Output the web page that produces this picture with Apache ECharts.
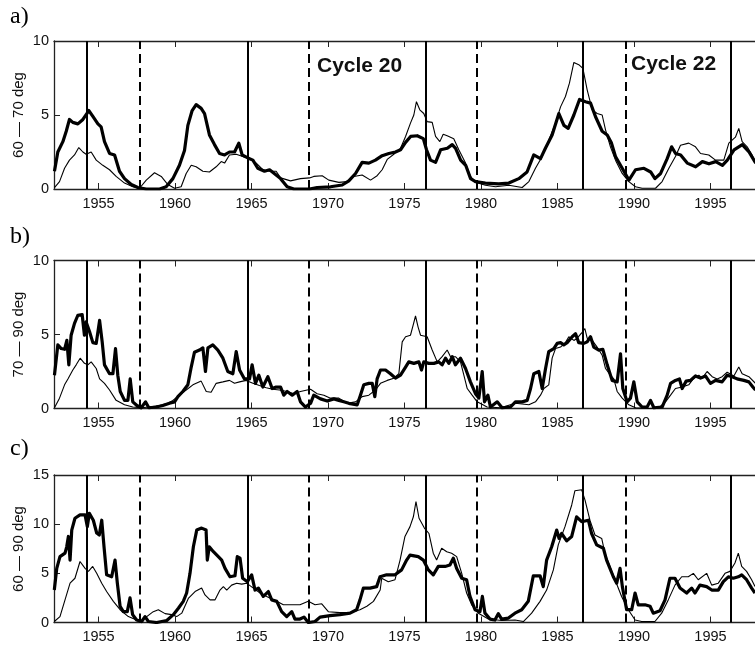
<!DOCTYPE html>
<html><head><meta charset="utf-8">
<script src="https://cdn.jsdelivr.net/npm/echarts@6/dist/echarts.min.js"></script>
<style>html,body{margin:0;padding:0;background:#fff}#c{width:755px;height:647px}</style>
</head><body><div id="c"></div>
<script>
// ---- tick labels / reference lines ----
const xTicks = [1955,1960,1965,1970,1975,1980,1985,1990,1995];
const solidYears = [1954.23,1964.73,1976.39,1986.65,1996.32];
const dashedYears = [1957.71,1968.76,1979.72,1989.46];
const panelLetters = ['a)','b)','c)'];
const yTitles = ['60 \u2014 70 deg','70 \u2014 90 deg','60 \u2014 90 deg'];
const yMaxes = [10,10,15];
const cycleLabels = ['Cycle 20','Cycle 22'];

// ---- panel a: 60-70 deg ----
const aThickYears = [1952.12,1952.34,1952.67,1952.89,1953.10,1953.32,1953.65,1953.98,1954.37,1954.63,1954.96,1955.17,1955.39,1955.72,1956.05,1956.37,1956.70,1957.14,1957.57,1958.12,1958.99,1959.42,1959.86,1960.29,1960.62,1960.84,1961.12,1961.38,1961.71,1961.93,1962.25,1962.58,1962.91,1963.24,1963.56,1963.89,1964.17,1964.39,1964.76,1965.09,1965.41,1965.85,1966.18,1966.61,
1966.90,1967.33,1967.77,1968.79,1969.29,1970.16,1970.93,1971.36,1971.80,1972.23,1972.67,1973.10,1973.54,1973.98,1974.41,1974.74,1975.07,1975.40,1975.83,1976.23,1976.44,1976.70,1977.03,1977.36,1977.80,1978.12,1978.34,1978.67,1979.00,1979.32,
1979.64,1980.29,1981.16,1981.82,1982.47,1983.01,1983.45,1983.89,1984.21,1984.65,1985.09,1985.42,1985.70,1986.07,1986.44,1986.83,1987.16,1987.48,1987.92,1988.25,1988.53,1988.79,1989.23,1989.67,1990.10,1990.65,1991.09,1991.37,1991.74,1992.17,1992.46,1992.72,1993.05,1993.48,1994.03,1994.47,1994.90,1995.34,1995.78,1996.10,1996.54,1997.08,1997.52,1997.96];
const aThickValues = [1.2,2.5,3.2,3.9,4.7,4.5,4.4,4.7,5.3,4.9,4.4,4.2,3.2,2.4,2.3,1.2,0.7,0.3,0.1,0,0,0.15,0.7,1.6,2.6,4.3,5.3,5.7,5.45,5.1,3.65,3.0,2.4,2.3,2.5,2.5,3.1,2.3,2.1,1.95,1.4,1.2,1.3,0.95,
0.7,0.15,0,0,0.1,0.15,0.27,0.55,1.05,1.8,1.75,1.95,2.25,2.4,2.5,2.65,3.15,3.55,3.6,3.4,2.65,1.95,1.8,2.65,2.75,3.0,2.75,1.95,1.6,0.7,
0.5,0.4,0.35,0.4,0.7,1.15,2.3,2.05,2.75,3.65,5.1,4.3,4.1,5.0,6.05,5.9,5.8,4.9,3.9,3.65,3.1,2.2,1.4,0.6,1.3,1.4,1.15,0.7,1.05,2.05,2.85,2.4,2.3,1.75,1.5,1.85,1.7,1.85,1.6,1.95,2.65,3.0,2.5,1.75];
const aThinYears = [1952.12,1952.45,1952.78,1953.10,1953.43,1953.71,1953.98,1954.19,1954.52,1954.85,1955.28,1955.72,1956.15,1956.70,1957.24,1957.68,1958.12,1958.66,1959.10,1959.53,1959.97,1960.40,1960.73,1961.06,1961.38,1961.82,1962.25,1962.69,1963.02,1963.24,1963.56,1964.00,1964.43,1964.87,1965.31,1965.74,1966.18,1966.61,
1966.90,1967.55,1968.20,1968.79,1969.07,1969.62,1970.05,1970.71,1971.25,1971.69,1972.23,1972.78,1973.21,1973.54,1973.87,1974.30,1974.74,1975.07,1975.39,1975.61,1975.78,1976.00,1976.26,1976.48,1976.81,1977.03,1977.31,1977.53,1977.79,1978.22,1978.55,1978.99,1979.31,
1979.64,1980.29,1980.95,1981.82,1982.69,1983.13,1983.56,1984.00,1984.43,1984.87,1985.20,1985.52,1985.78,1986.07,1986.39,1986.66,1986.94,1987.27,1987.59,1987.92,1988.14,1988.46,1988.79,1989.23,1989.66,1990.10,1990.53,1991.41,1991.84,1992.28,1992.71,1993.04,1993.58,1994.02,1994.35,1994.89,1995.33,1995.87,1996.20,1996.63,1996.85,1997.07,1997.40,1997.72,1997.94];
const aThinValues = [0.1,0.5,1.4,1.95,2.3,2.8,2.5,2.35,2.5,1.95,1.6,1.3,0.85,0.4,0.15,0.05,0.6,1.1,0.85,0.3,0.05,0.15,1.05,1.6,1.5,1.2,1.15,1.5,1.85,1.75,2.3,2.35,2.2,2.05,1.75,1.3,1.2,1.2,
0.75,0.55,0.7,0.75,0.85,0.9,0.6,0.45,0.5,0.85,0.95,0.6,0.9,1.3,2.0,2.35,2.75,3.55,4.45,5.0,5.9,5.35,5.1,4.55,4.5,3.55,3.2,3.7,3.6,3.4,2.65,1.75,0.85,
0.45,0.25,0.15,0.25,0.1,0.5,1.4,2.2,3.3,4.45,5.55,6.25,7.15,8.55,8.4,8.15,6.7,5.35,5.1,5.0,4.0,2.85,1.95,1.05,0.5,0.15,0.05,0.05,0.5,1.4,2.2,2.95,3.1,2.85,2.4,2.3,1.95,1.95,3.1,3.5,4.1,3.2,2.85,2.3,1.75];

// ---- panel b: 70-90 deg ----
const bThickYears = [1952.12,1952.34,1952.56,1952.78,1952.93,1953.06,1953.21,1953.43,1953.65,1953.93,1954.08,1954.19,1954.41,1954.63,1954.85,1955.07,1955.24,1955.39,1955.72,1955.94,1956.11,1956.26,1956.42,1956.70,1956.92,1957.07,1957.24,1957.51,1957.79,1958.07,1958.29,1958.77,1959.20,1959.64,1959.97,1960.19,1960.51,1960.84,1961.06,1961.27,1961.60,1961.82,1961.99,1962.15,1962.47,1962.80,1963.13,1963.45,1963.78,1964.00,1964.22,1964.54,1964.87,1965.04,1965.26,1965.48,1965.74,1966.07,1966.35,1966.61,
1966.90,1967.11,1967.33,1967.66,1967.98,1968.20,1968.53,1968.86,1969.07,1969.51,1969.95,1970.38,1970.71,1971.03,1971.36,1971.91,1972.12,1972.34,1972.67,1972.89,1973.06,1973.21,1973.43,1973.76,1974.08,1974.41,1974.74,1975.07,1975.28,1975.61,1975.94,1976.11,1976.26,1976.59,1976.92,1977.24,1977.46,1977.68,1977.90,1978.12,1978.33,1978.66,1978.99,1979.31,1979.64,1979.86,1980.08,1980.23,1980.45,1980.62,1981.06,1981.38,1981.93,
1982.25,1982.69,1983.02,1983.24,1983.45,1983.78,1984.00,1984.22,1984.43,1984.76,1984.98,1985.20,1985.41,1985.63,1985.96,1986.18,1986.39,1986.72,1986.94,1987.16,1987.37,1987.70,1987.96,1988.25,1988.57,1988.90,1989.12,1989.27,1989.55,1989.77,1989.99,1990.21,1990.53,1990.86,1991.08,1991.30,1991.84,1992.17,1992.39,1992.71,1992.97,1993.15,1993.41,1993.69,1994.02,1994.35,1994.67,1995.00,1995.33,1995.76,1996.09,1996.42,1996.74,1997.18,1997.51,1997.77,1997.94];
const bThickValues = [2.25,4.3,4.05,4.0,4.6,2.95,4.95,5.75,6.3,6.35,4.95,5.85,5.2,4.45,4.4,5.95,4.5,2.95,2.35,2.35,4.05,2.25,1.15,0.55,0.55,2.0,0.45,0.2,0.05,0.45,0.05,0.1,0.2,0.35,0.45,0.8,1.15,1.6,2.8,3.8,3.95,4.1,2.5,4.1,4.3,3.95,3.4,2.5,2.35,3.85,2.6,2.0,2.0,2.95,1.7,2.25,1.45,2.15,1.35,1.45,
1.45,0.9,1.15,0.9,1.15,0.45,0.1,0.35,0.9,0.65,0.5,0.65,0.55,0.45,0.35,0.25,0.9,1.6,1.7,1.7,0.8,2.0,2.6,2.6,2.35,2.05,2.25,2.8,3.15,3.05,3.15,2.6,3.15,3.05,3.05,3.15,2.95,3.4,3.05,3.5,2.95,3.4,2.7,1.8,1.0,0.7,2.5,0.45,0.9,0.1,0.45,0.05,0.1,
0.45,0.45,0.55,1.35,2.35,2.5,1.35,2.7,3.85,4.05,4.4,4.45,4.3,4.45,4.85,5.05,4.45,4.4,4.5,4.85,4.15,3.95,4.0,2.95,1.9,1.8,3.7,1.35,0.45,0.7,1.8,0.45,0.1,0.1,0.55,0.05,0.1,0.9,1.7,1.9,2.0,1.35,1.85,1.9,2.2,2.05,2.2,1.7,1.9,1.8,2.25,2.15,2.0,1.9,1.8,1.45,1.25];
const bThinYears = [1952.12,1952.45,1952.78,1953.00,1953.32,1953.54,1953.80,1954.08,1954.30,1954.52,1954.85,1955.07,1955.39,1955.72,1956.15,1956.70,1957.24,1957.79,1958.33,1958.99,1959.53,1959.86,1960.29,1960.73,1961.17,1961.71,1962.04,1962.36,1962.69,1963.13,1963.56,1963.89,1964.22,1964.65,1965.09,1965.52,1965.96,1966.39,1966.83,
1967.33,1967.77,1968.20,1968.86,1969.29,1969.73,1970.16,1970.71,1971.25,1971.80,1972.23,1972.67,1973.10,1973.43,1973.87,1974.30,1974.63,1974.85,1975.07,1975.39,1975.57,1975.72,1975.89,1976.05,1976.48,1976.81,1977.14,1977.46,1977.79,1978.01,1978.33,1978.66,1978.88,1979.10,1979.42,1979.75,1980.40,1981.28,
1982.25,1983.13,1983.56,1983.89,1984.11,1984.43,1984.65,1984.87,1985.20,1985.52,1985.74,1986.07,1986.29,1986.61,1986.79,1986.94,1987.27,1987.59,1987.92,1988.14,1988.46,1988.68,1988.90,1989.23,1989.66,1990.10,1990.97,1991.62,1992.06,1992.39,1992.71,1993.15,1993.58,1993.91,1994.24,1994.46,1994.78,1995.11,1995.44,1995.76,1996.09,1996.53,1996.85,1997.07,1997.51,1997.94];
const bThinValues = [0.05,0.7,1.6,2.0,2.6,2.95,3.4,3.05,2.95,3.15,2.7,2.0,1.7,1.25,0.55,0.25,0.1,0.05,0.1,0.2,0.35,0.55,0.9,1.25,1.6,1.85,1.15,1.1,1.7,1.8,1.9,1.7,1.8,1.9,1.7,1.55,1.4,1.3,1.25,
1.15,1.0,1.15,1.3,1.0,0.9,0.7,0.7,0.35,0.45,0.8,0.9,1.25,1.7,1.9,2.05,2.35,4.5,4.85,4.95,5.65,6.25,5.5,4.95,4.85,3.95,3.15,3.5,3.95,3.5,3.5,3.15,2.25,1.35,0.9,0.45,0.1,0.05,
0.35,0.25,0.45,0.9,1.35,1.6,3.4,4.05,4.15,4.45,4.85,4.6,4.75,5.15,5.4,4.75,4.6,4.15,3.6,2.7,2.25,2.0,1.15,0.7,0.25,0.05,0,0.05,0.45,0.9,1.35,1.45,1.6,2.05,2.25,2.05,2.5,2.15,2.0,2.15,2.45,2.2,2.8,2.35,2.15,1.7];

// ---- panel c: 60-90 deg ----
const cThickYears = [1952.11,1952.27,1952.48,1952.81,1952.92,1953.03,1953.14,1953.25,1953.46,1953.79,1954.12,1954.27,1954.40,1954.66,1954.88,1955.05,1955.21,1955.36,1955.53,1955.86,1956.08,1956.23,1956.41,1956.62,1956.88,1957.06,1957.23,1957.49,1957.82,1958.04,1958.26,1958.80,1959.46,1959.89,1960.22,1960.54,1960.76,1960.98,1961.20,1961.42,1961.74,1962.03,1962.11,1962.24,1962.51,1962.83,1963.05,1963.27,1963.59,1963.92,1964.07,1964.25,1964.42,1964.73,1965.01,1965.23,1965.45,1965.77,1966.10,1966.32,1966.65,1966.97,1967.30,1967.63,1967.84,1968.17,1968.43,1968.71,1969.15,1969.48,1970.13,1970.78,1971.44,1971.87,1972.09,1972.31,1972.75,1973.18,
1973.40,1973.83,1974.38,1974.81,1975.14,1975.36,1975.90,1976.23,1976.56,1976.88,1977.21,1977.65,1977.97,1978.19,1978.41,1978.74,1979.06,1979.28,1979.61,1979.93,1980.09,1980.26,1980.59,1980.91,1981.13,1981.35,1981.79,1982.22,1982.66,1983.09,1983.42,1983.86,1984.07,1984.29,1984.62,1984.95,1985.10,1985.27,1985.60,1985.93,1986.25,1986.58,1987.02,1987.23,1987.56,1988.00,1988.21,1988.65,1988.87,1989.09,1989.24,1989.52,1989.85,1990.07,1990.28,1990.72,1991.05,1991.26,1991.70,1992.03,1992.35,1992.68,1993.01,1993.44,1993.77,1993.99,1994.31,1994.75,1995.08,1995.51,1995.84,1996.17,1996.49,1996.82,1997.04,1997.36,1997.69,1997.91];
const cThickValues = [3.3,5.5,6.7,7.05,7.7,8.75,6.35,9.4,10.6,10.95,10.95,9.75,11.1,10.4,9.1,8.9,10.4,7.7,4.85,4.65,6.35,4.0,1.65,1.1,1.1,2.5,0.8,0.25,0.1,0.6,0.1,0,0.2,0.8,1.45,2.15,3.0,5.0,7.7,9.4,9.6,9.4,6.35,7.7,7.2,6.7,6.35,5.5,4.65,4.75,6.7,6.55,4.5,4.15,4.85,3.3,3.5,2.65,3.15,2.3,2.15,1.1,0.6,1.1,0.35,0.35,0.55,0,0.1,0.55,0.7,0.8,0.95,1.3,2.3,3.5,3.5,3.65,
4.65,4.85,4.85,5.35,6.35,6.85,6.7,6.35,5.35,4.85,5.7,5.7,5.85,6.55,5.5,4.5,4.35,2.65,1.3,1.1,2.65,0.95,0.35,0.25,0.9,0.35,0.45,0.95,1.3,2.15,4.75,4.75,3.65,6.35,7.7,9.4,8.55,9.05,8.3,8.75,10.75,10.25,10.4,9.05,7.9,7.55,6.35,4.65,4.0,5.5,3.65,1.3,1.3,3.0,1.8,1.8,1.65,0.95,1.2,2.3,4.5,4.5,3.5,3.0,3.5,3.0,3.8,3.65,3.3,3.3,4.15,4.65,4.5,4.65,4.85,4.35,3.5,3.0];
const cThinYears = [1952.11,1952.48,1952.81,1953.14,1953.46,1953.79,1954.12,1954.34,1954.62,1954.88,1955.21,1955.53,1955.97,1956.41,1956.95,1957.49,1957.82,1958.15,1958.58,1958.91,1959.35,1959.78,1960.11,1960.44,1960.87,1961.31,1961.74,1961.96,1962.29,1962.61,1962.94,1963.16,1963.38,1963.70,1964.03,1964.36,1964.68,1965.12,1965.56,1965.99,1966.65,1967.08,1967.63,1968.17,1968.71,1969.15,1969.59,1970.02,1970.78,1971.44,1972.09,1972.54,1972.97,1973.41,
1973.51,1973.94,1974.38,1974.71,1975.03,1975.36,1975.58,1975.75,1975.95,1976.30,1976.60,1976.88,1977.10,1977.43,1977.76,1978.08,1978.41,1978.74,1979.06,1979.39,1979.83,1980.48,1981.35,1982.22,1982.77,1983.31,1983.86,1984.29,1984.73,1985.05,1985.49,1985.93,1986.14,1986.58,1986.80,1987.12,1987.45,1987.89,1988.10,1988.43,1988.76,1989.19,1989.63,1990.07,1990.50,1991.37,1991.81,1992.24,1992.68,1993.12,1993.55,1993.88,1994.20,1994.75,1995.08,1995.51,1995.95,1996.27,1996.60,1996.82,1997.04,1997.36,1997.69,1997.91];
const cThinValues = [0.1,0.6,2.3,4.0,4.5,6.2,5.5,5.2,5.7,5.0,4.0,3.15,2.15,1.3,0.6,0.25,0.15,0.6,1.1,1.3,0.9,0.8,0.6,0.95,2.45,3.15,3.5,2.8,2.3,2.3,3.3,3.65,3.3,3.8,4.0,3.9,4.0,3.5,3.0,2.65,2.15,1.8,1.8,1.8,2.15,1.8,1.9,1.1,1.0,1.0,1.3,1.65,2.15,3.3,
4.5,4.15,4.35,6.35,8.75,9.75,10.75,12.3,10.6,9.6,9.05,7.05,6.35,7.55,7.2,7.05,6.7,5.0,3.0,1.8,0.95,0.35,0.2,0.25,0.1,0.95,2.15,3.3,5.35,7.9,9.75,11.95,13.4,13.5,12.45,10.4,8.9,8.55,7.05,5.7,4.35,2.65,1.3,0.25,0.1,0.1,0.95,2.3,3.8,4.65,4.65,5.0,4.35,5.0,3.8,4.0,5.0,5.2,6.05,7.05,5.7,5.2,4.35,3.65];

const panels = [
  {thick:[aThickYears,aThickValues], thin:[aThinYears,aThinValues]},
  {thick:[bThickYears,bThickValues], thin:[bThinYears,bThinValues]},
  {thick:[cThickYears,cThickValues], thin:[cThinYears,cThinValues]}
];

// ---- layout ----
const X_MIN = 1952.09, X_MAX = 1997.91;
const gridBoxes = [
  {left:54, top:41, right:0, height:148},
  {left:54, top:260.5, right:0, height:148},
  {left:54, top:475, right:0, height:147.5}
];
const AX = '#222';
const FONT = 'Liberation Sans, Arial, Helvetica, sans-serif';

const zip = (xs, ys) => xs.map((x, i) => [x, ys[i]]);

const xAxes = [], yAxes = [], series = [];
gridBoxes.forEach((g, i) => {
  const base = {
    type:'value', gridIndex:i, min:X_MIN, max:X_MAX,
    axisLine:{show:true, onZero:false, lineStyle:{color:AX, width:1.3}},
    axisTick:{show:true, inside:true, length:6, customValues:xTicks, lineStyle:{color:AX, width:1}},
    splitLine:{show:false}
  };
  xAxes.push(Object.assign({}, base, {
    position:'bottom',
    axisLabel:{show:true, customValues:xTicks, margin:7, color:'#111', fontFamily:FONT, fontSize:14.5,
      formatter: v => String(Math.round(v))}
  }));
  xAxes.push(Object.assign({}, base, {position:'top', axisLabel:{show:false}}));
  yAxes.push({
    type:'value', gridIndex:i, min:0, max:yMaxes[i], interval:5,
    axisLine:{show:true, onZero:false, lineStyle:{color:AX, width:1.3}},
    axisTick:{show:true, inside:true, length:6, lineStyle:{color:AX, width:1}},
    axisLabel:{margin:5, color:'#111', fontFamily:FONT, fontSize:14.5},
    splitLine:{show:false}
  });
  const p = panels[i];
  const mlData = solidYears.map(y => ({xAxis:y, lineStyle:{type:'solid'}}))
    .concat(dashedYears.map(y => ({xAxis:y, lineStyle:{type:[9,5]}})));
  series.push({
    type:'line', xAxisIndex:2*i, yAxisIndex:i, data:zip(p.thin[0], p.thin[1]),
    showSymbol:false, symbol:'none', lineStyle:{color:'#000', width:1.1}, animation:false, z:3,
    markLine:{silent:true, symbol:['none','none'], label:{show:false}, animation:false,
      lineStyle:{color:'#000', width:2, opacity:1}, emphasis:{disabled:true}, data:mlData}
  });
  series.push({
    type:'line', xAxisIndex:2*i, yAxisIndex:i, data:zip(p.thick[0], p.thick[1]),
    showSymbol:false, symbol:'none', lineStyle:{color:'#000', width:3.2, join:'round'}, animation:false, z:4
  });
});

const graphic = [];
const letterY = [17, 237, 449];
const titleY = [115, 334.5, 549];
panelLetters.forEach((t, i) => {
  graphic.push({type:'text', left:null, x:10, y:letterY[i],
    style:{text:t, fill:'#000', font:'24px "Liberation Serif", "Times New Roman", serif', textVerticalAlign:'middle', textAlign:'left'}});
  graphic.push({type:'text', x:19, y:titleY[i], rotation:Math.PI/2,
    style:{text:yTitles[i], fill:'#111', font:'15px ' + FONT, textAlign:'center', textVerticalAlign:'middle'}});
});
graphic.push({type:'text', x:317, y:66.5, style:{text:cycleLabels[0], fill:'#111', font:'bold 21px ' + FONT, textVerticalAlign:'middle'}});
graphic.push({type:'text', x:631, y:64.5, style:{text:cycleLabels[1], fill:'#111', font:'bold 21px ' + FONT, textVerticalAlign:'middle'}});

const chart = echarts.init(document.getElementById('c'), null, {renderer:'canvas'});
chart.setOption({
  animation:false,
  backgroundColor:'#fff',
  grid:gridBoxes,
  xAxis:xAxes,
  yAxis:yAxes,
  series:series,
  graphic:graphic
});
</script>
</body></html>
